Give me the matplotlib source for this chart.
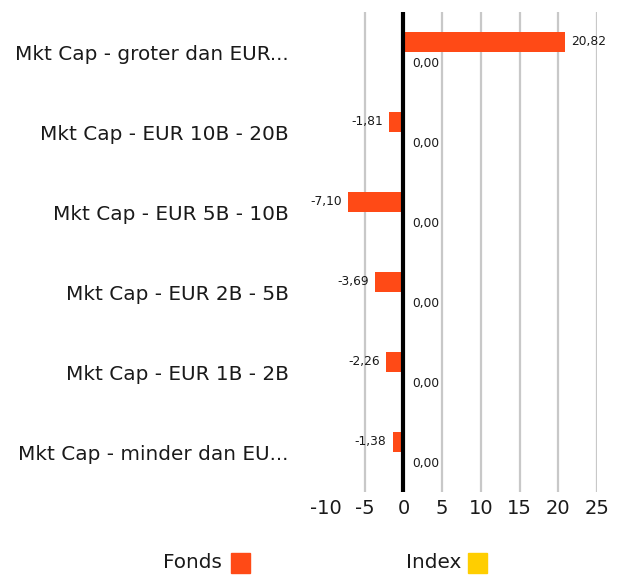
import matplotlib
matplotlib.use("Agg")
import matplotlib.pyplot as plt
import numpy as np

categories = ["Mkt Cap - groter dan EUR...", "Mkt Cap - EUR 10B - 20B", "Mkt Cap - EUR 5B - 10B",
              "Mkt Cap - EUR 2B - 5B", "Mkt Cap - EUR 1B - 2B", "Mkt Cap - minder dan EU..."]
fonds = [20.82, -1.81, -7.10, -3.69, -2.26, -1.38]
index = [0.00, 0.00, 0.00, 0.00, 0.00, 0.00]
xticks = [-10, -5, 0, 5, 10, 15, 20, 25]
series_names = ["Fonds", "Index"]

plt.rcParams['font.family'] = ['DejaVu Sans']
ORANGE = "#FF4A16"
YELLOW = "#FFCE00"
TXT = "#1a1a1a"

W, H = 623, 576
fig = plt.figure(figsize=(W/100, H/100), dpi=100)
ax = fig.add_axes([326/W, (H-492)/H, (597-326)/W, (492-12)/H])

y = np.arange(len(categories))
bh = 0.25
ax.barh(y - bh/2, fonds, height=bh, color=ORANGE, zorder=3)
ax.barh(y + bh/2, index, height=bh, color=YELLOW, zorder=3)

def fmt(v):
    return f"{v:.2f}".replace(".", ",")

for yi, v in zip(y, fonds):
    if v >= 0:
        ax.text(v + 0.8, yi - bh/2, fmt(v), ha="left", va="center", fontsize=8.8, color=TXT)
    else:
        ax.text(v - 0.8, yi - bh/2, fmt(v), ha="right", va="center", fontsize=8.8, color=TXT)
for yi, v in zip(y, index):
    ax.text(v + 1.1, yi + bh/2 + 0.02, fmt(v), ha="left", va="center", fontsize=8.8, color=TXT)

ax.set_xlim(-10, 25)
ax.set_ylim(len(categories) - 0.5, -0.5)
for xt in xticks:
    if xt == 0:
        ax.axvline(0, color="black", lw=3, zorder=4)
    elif xt > -10:
        ax.axvline(xt, color="#c8c8c8", lw=1.6, zorder=1)

ax.set_yticks(y)
ax.set_yticklabels(categories, fontsize=14.4, color=TXT)
ax.set_xticks(xticks)
ax.set_xticklabels([str(t) for t in xticks], fontsize=14, color=TXT)
ax.tick_params(axis="y", length=0, pad=27)
ax.tick_params(axis="x", length=0, pad=5)
for s in ax.spines.values():
    s.set_visible(False)

# legend
fig.text(222/W, 1 - 563/H, series_names[0], ha="right", va="center", fontsize=14.4, color=TXT)
fig.patches.append(plt.Rectangle((231/W, 1 - 573/H), 19/W, 20/H, transform=fig.transFigure,
                                 color=ORANGE, figure=fig))
fig.text(461/W, 1 - 563/H, series_names[1], ha="right", va="center", fontsize=14.4, color=TXT)
fig.patches.append(plt.Rectangle((468/W, 1 - 573/H), 19/W, 20/H, transform=fig.transFigure,
                                 color=YELLOW, figure=fig))

fig.savefig("out.png", dpi=100)
